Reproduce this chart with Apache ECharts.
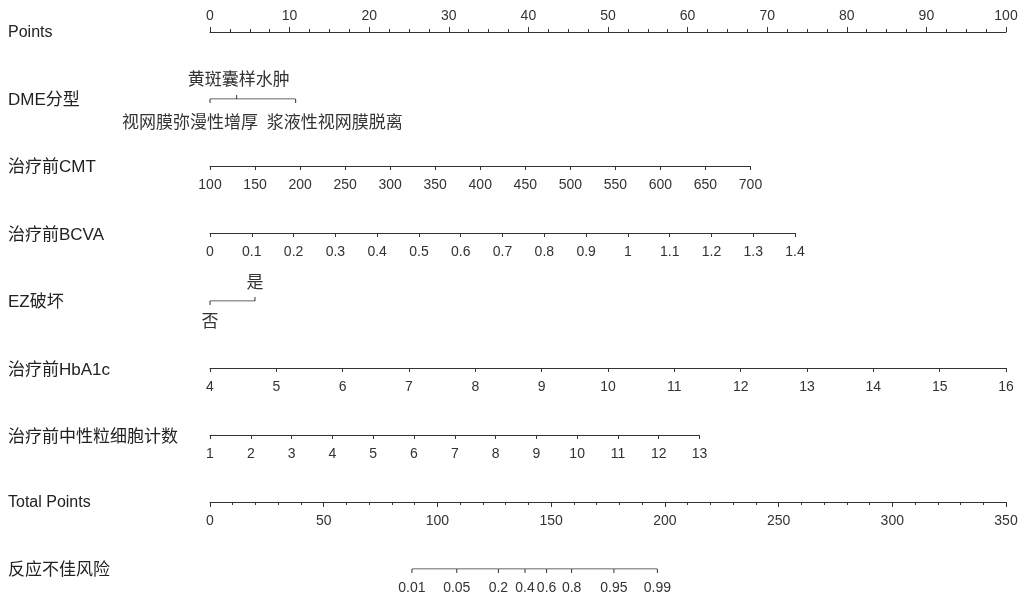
<!DOCTYPE html>
<html>
<head>
<meta charset="utf-8">
<script src="https://cdn.jsdelivr.net/npm/echarts@6/dist/echarts.min.js"></script>
<style>
  html, body { margin: 0; padding: 0; background: #fff; }
  #main { width: 1031px; height: 597px; }
</style>
</head>
<body>
<div id="main"></div>
<script>
// 列线图数据
var rowLabels = ['Points', 'DME分型', '治疗前CMT', '治疗前BCVA', 'EZ破坏',
  '治疗前HbA1c', '治疗前中性粒细胞计数', 'Total Points', '反应不佳风险'];

var pointsRange = [0, 100];

var dmeLevels = ['视网膜弥漫性增厚', '黄斑囊样水肿', '浆液性视网膜脱离'];
var dmePoints = [0, 3.35, 10.76];

var cmtRange = [100, 700];
var cmtPoints = [0, 67.9];

var bcvaRange = [0, 1.4];
var bcvaPoints = [0, 73.5];

var ezLevels = ['否', '是'];
var ezPoints = [0, 5.65];

var hba1cRange = [4, 16];
var hba1cPoints = [0, 100];

var neutRange = [1, 13];
var neutPoints = [0, 61.5];

var totalRange = [0, 350];

var riskTicks = ['0.01', '0.05', '0.2', '0.4', '0.6', '0.8', '0.95', '0.99'];
var riskTotalPoints = [88.8, 108.5, 126.8, 138.5, 148.0, 159.0, 177.6, 196.7];

// 版面
var LEFT = 210, W = 796;
var rowY = [32, 99, 166, 233, 301, 368, 435, 502, 569];
var FONT_LATIN = 'Liberation Sans, Arial, sans-serif';
var FONT_ALL = 'Liberation Sans, Arial, "Noto Sans CJK SC", sans-serif';
var INK = '#333';

var grids = [], xAxes = [], yAxes = [], series = [];

function baseY(gi) {
  return { gridIndex: gi, type: 'value', min: 0, max: 1, show: false };
}

// 连续变量：用原生数值轴
function axisRow(row, range, pts, interval, extra) {
  var gi = grids.length;
  var top = extra && extra.top;
  grids.push({
    left: LEFT + W * pts[0] / 100,
    width: W * (pts[1] - pts[0]) / 100,
    top: top ? rowY[row] : rowY[row] - 10,
    height: 10,
    outerBoundsMode: 'none'
  });
  var ax = {
    gridIndex: gi, type: 'value',
    position: top ? 'top' : 'bottom',
    min: range[0], max: range[1], interval: interval,
    splitLine: { show: false },
    axisLine: { show: true, onZero: false, lineStyle: { color: INK, width: 1 } },
    axisTick: { show: true, inside: false, length: (extra && extra.tickLen) || 4,
      lineStyle: { color: INK, width: 1 } },
    axisLabel: { show: true, interval: 0, showMinLabel: true, showMaxLabel: true,
      margin: top ? 9 : 12, color: INK, fontSize: 14, fontFamily: FONT_LATIN }
  };
  if (extra && extra.minor) {
    ax.minorTick = { show: true, splitNumber: extra.minor, length: 3,
      lineStyle: { color: INK, width: 1 } };
  }
  xAxes.push(ax);
  yAxes.push(baseY(gi));
}

// 分类变量与风险轴：自定义刻度
function customRow(row, max, positions, labels, sides, shifts, fontSize, gapUp, gapDown) {
  var gi = grids.length;
  grids.push({ left: LEFT, width: W, top: rowY[row] - 10, height: 10, outerBoundsMode: 'none' });
  xAxes.push({ gridIndex: gi, type: 'value', min: 0, max: max, show: false });
  yAxes.push(baseY(gi));
  series.push({
    type: 'line', xAxisIndex: gi, yAxisIndex: gi, silent: true, symbol: 'none',
    lineStyle: { color: INK, width: 1 },
    data: [[positions[0], 0], [positions[positions.length - 1], 0]]
  });
  series.push({
    type: 'custom', xAxisIndex: gi, yAxisIndex: gi, silent: true,
    data: positions.map(function (p, i) { return [p, 0, i]; }),
    renderItem: function (params, api) {
      var i = api.value(2);
      var pt = api.coord([api.value(0), 0]);
      var up = sides[i] === 'above';
      var tickLen = 4;
      var y2 = up ? pt[1] - tickLen : pt[1] + tickLen;
      var ty = up ? pt[1] - gapUp : pt[1] + gapDown;
      return {
        type: 'group',
        children: [
          { type: 'line', shape: { x1: pt[0], y1: pt[1], x2: pt[0], y2: y2 },
            style: { stroke: INK, lineWidth: 1 } },
          { type: 'text', style: { text: labels[i], x: pt[0] + (shifts ? shifts[i] : 0), y: ty,
            align: 'center', verticalAlign: 'middle', fill: INK,
            font: fontSize + 'px ' + FONT_ALL } }
        ]
      };
    }
  });
}

axisRow(0, pointsRange, pointsRange, 10, { top: true, minor: 4, tickLen: 5 });
customRow(1, 100, dmePoints, dmeLevels, ['below', 'above', 'below'], [-20, 2, 39], 17, 19, 24);
axisRow(2, cmtRange, cmtPoints, 50);
axisRow(3, bcvaRange, bcvaPoints, 0.1);
customRow(4, 100, ezPoints, ezLevels, ['below', 'above'], null, 17, 18, 21);
axisRow(5, hba1cRange, hba1cPoints, 1);
axisRow(6, neutRange, neutPoints, 1);
axisRow(7, totalRange, [0, 100], 50, { minor: 5, tickLen: 5 });
customRow(8, totalRange[1], riskTotalPoints, riskTicks,
  riskTicks.map(function () { return 'below'; }), null, 14, 18, 19);

var titleY = [33, 100, 167, 235, 302, 370, 437, 503, 570];
var graphics = rowLabels.map(function (t, i) {
  var cjk = /[^\x00-\x7f]/.test(t);
  return {
    type: 'text', x: 8, y: titleY[i], silent: true,
    style: { text: t, fill: '#222', align: 'left', verticalAlign: 'middle',
      font: (cjk ? 17 : 16) + 'px ' + FONT_ALL }
  };
});

var chart = echarts.init(document.getElementById('main'), null, { renderer: 'canvas' });
chart.setOption({
  animation: false,
  backgroundColor: '#fff',
  grid: grids,
  xAxis: xAxes,
  yAxis: yAxes,
  series: series,
  graphic: graphics
});
</script>
</body>
</html>
